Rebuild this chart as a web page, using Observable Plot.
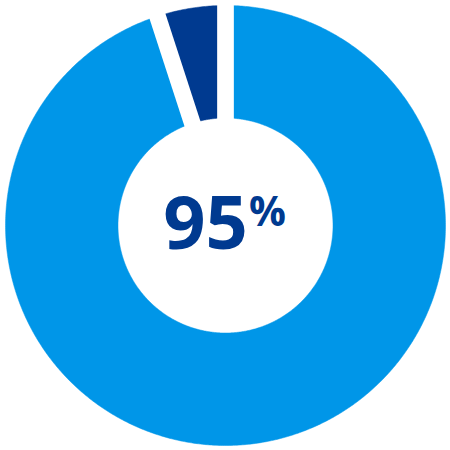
<!DOCTYPE html>
<html>
<head>
<meta charset="utf-8">
<script src="https://cdn.jsdelivr.net/npm/d3@7"></script>
<script src="https://cdn.jsdelivr.net/npm/@observablehq/plot@0.6"></script>
<style>
  html, body { margin: 0; padding: 0; background: #fff; }
  #chart svg { display: block; }
</style>
</head>
<body>
<div id="chart"></div>
<script>
const categories = ["Yes", "No"];
const values = [95, 5];
const colors = ["#0096e8", "#003a90"];
const label = "95";
const labelUnit = "%";

const W = 450, H = 450;
const R = 220, r0 = 107.5, gap = 16.7;

// slices run clockwise from 12 o'clock, ending at the top
const total = d3.sum(values);
let acc = 0;
const slices = values.map((v, i) => {
  const a0 = acc / total * 2 * Math.PI;
  acc += v;
  const a1 = acc / total * 2 * Math.PI;
  return {cat: categories[i], a0, a1};
});

const polyPts = [];
for (const s of slices) {
  const n = Math.max(8, Math.ceil((s.a1 - s.a0) * 120));
  for (let k = 0; k <= n; k++) {
    const a = s.a0 + (s.a1 - s.a0) * k / n;
    polyPts.push({cat: s.cat, x: R * Math.sin(a), y: R * Math.cos(a)});
  }
  for (let k = n; k >= 0; k--) {
    const a = s.a0 + (s.a1 - s.a0) * k / n;
    polyPts.push({cat: s.cat, x: r0 * Math.sin(a), y: r0 * Math.cos(a)});
  }
}
const seps = slices.map(s => ({
  x1: (r0 - 2) * Math.sin(s.a0), y1: (r0 - 2) * Math.cos(s.a0),
  x2: (R + 2) * Math.sin(s.a0), y2: (R + 2) * Math.cos(s.a0)
}));

const chart = Plot.plot({
  width: W, height: H,
  margin: 0,
  x: {domain: [-225, 225], axis: null},
  y: {domain: [-225, 225], axis: null},
  color: {domain: categories, range: colors},
  style: {background: "#fff", overflow: "visible"},
  marks: [
    Plot.line(polyPts, {x: "x", y: "y", z: "cat", fill: "cat", stroke: "cat", strokeWidth: 0.5, curve: "linear-closed"}),
    Plot.link(seps, {x1: "x1", y1: "y1", x2: "x2", y2: "y2", stroke: "#fff", strokeWidth: gap, strokeLinecap: "butt"}),
    Plot.text([label], {x: -20, y: 0, text: d => d, fill: colors[1], fontSize: 74, fontWeight: 700, fontFamily: "Open Sans", textAnchor: "middle", lineAnchor: "middle"}),
    Plot.text([labelUnit], {x: 42, y: 12.5, text: d => d, fill: colors[1], fontSize: 41, fontWeight: 700, fontFamily: "Open Sans", textAnchor: "middle", lineAnchor: "middle"})
  ]
});
document.getElementById("chart").appendChild(chart);
</script>
</body>
</html>
